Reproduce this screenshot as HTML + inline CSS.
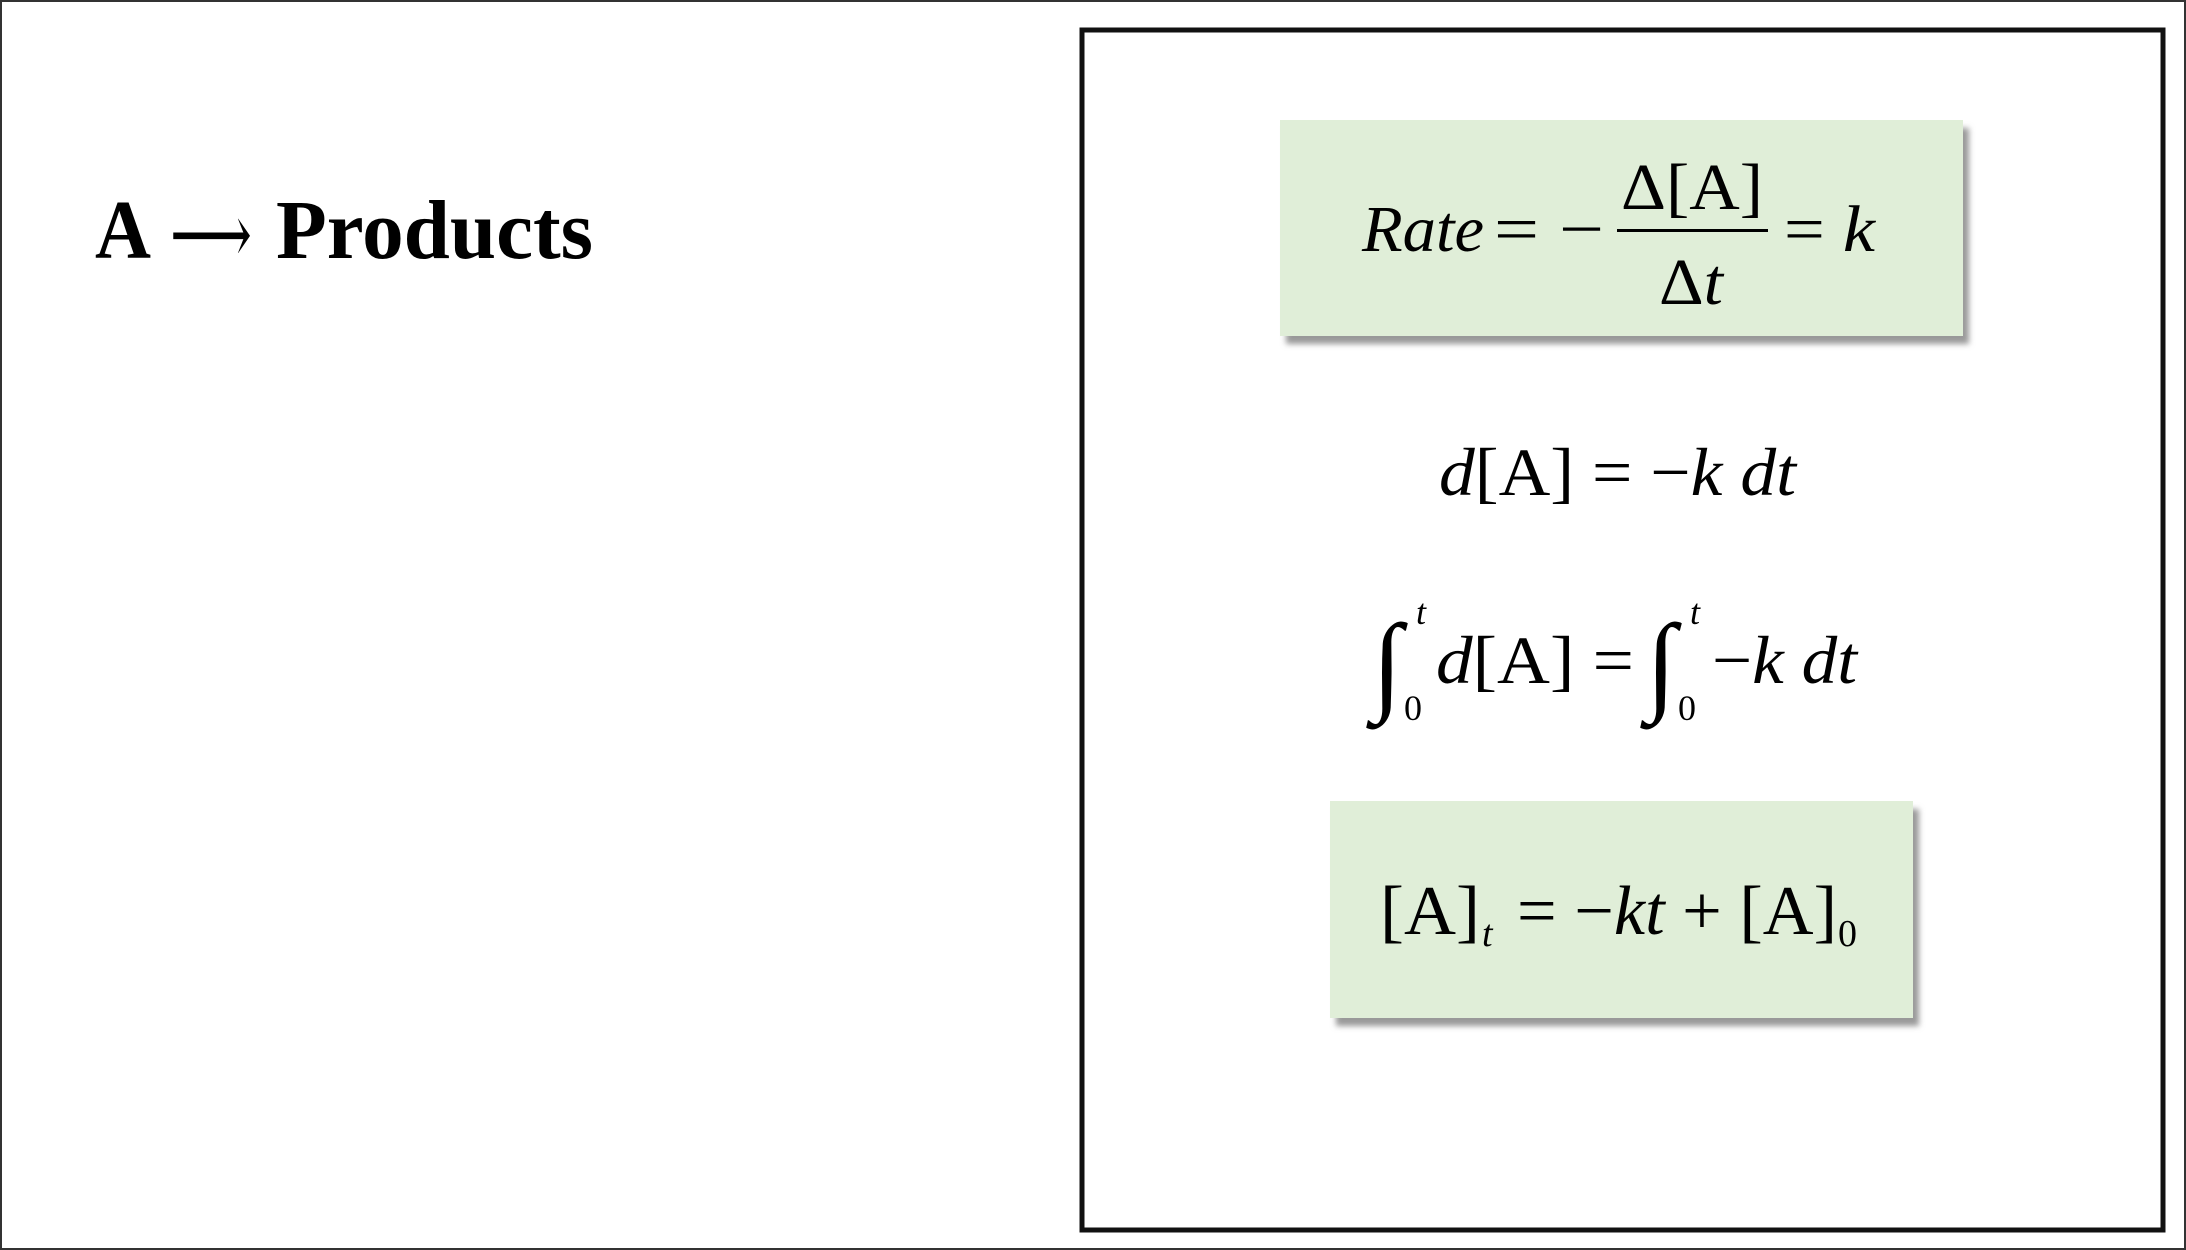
<!DOCTYPE html>
<html><head><meta charset="utf-8"><style>
html,body{margin:0;padding:0;background:#fff;}
svg{display:block;}
text{font-family:"Liberation Serif","DejaVu Serif",serif;fill:#000;}
</style></head><body>
<svg width="2186" height="1250" viewBox="0 0 2186 1250">
<defs>
<filter id="sh" x="-5%" y="-5%" width="115%" height="120%"><feGaussianBlur stdDeviation="3"/></filter>
</defs>
<rect x="1" y="1" width="2184" height="1248" fill="#fff" stroke="#333" stroke-width="2"/>
<g>
<text x="95" y="258" font-size="84" font-weight="bold" textLength="56" lengthAdjust="spacingAndGlyphs">A</text>
<text x="170" y="263" font-size="84" textLength="82" lengthAdjust="spacingAndGlyphs">⟶</text>
<text x="276" y="258" font-size="84" font-weight="bold" textLength="317" lengthAdjust="spacingAndGlyphs">Products</text>
</g>

<rect x="1082" y="30" width="1081" height="1200" fill="#fff" stroke="#111" stroke-width="5"/>

<g>
<rect x="1286" y="128" width="683" height="216" fill="#999" filter="url(#sh)"/>
<rect x="1280" y="120" width="683" height="216" fill="#e0eed8"/>
<text x="1362" y="251" font-size="66" font-style="italic" textLength="122" lengthAdjust="spacingAndGlyphs">Rate</text>
<text x="1494" y="251" font-size="66" textLength="110" lengthAdjust="spacingAndGlyphs">= −</text>
<text x="1621" y="209" font-size="66" textLength="142" lengthAdjust="spacingAndGlyphs">Δ[A]</text>
<rect x="1617" y="229" width="151" height="3" fill="#000"/>
<text x="1659" y="304" font-size="66" textLength="64" lengthAdjust="spacingAndGlyphs">Δ<tspan font-style="italic">t</tspan></text>
<text x="1784" y="251" font-size="66" textLength="91" lengthAdjust="spacingAndGlyphs">= <tspan font-style="italic">k</tspan></text>
</g>

<text x="1439" y="495" font-size="68" textLength="357" lengthAdjust="spacingAndGlyphs"><tspan font-style="italic">d</tspan>[A] = −<tspan font-style="italic">k dt</tspan></text>

<g>
<text x="1372" y="700" font-size="110" font-style="italic">∫</text>
<text x="1416" y="624" font-size="36" font-style="italic">t</text>
<text x="1404" y="720" font-size="36">0</text>
<text x="1436" y="683" font-size="68" textLength="198" lengthAdjust="spacingAndGlyphs"><tspan font-style="italic">d</tspan>[A] =</text>
<text x="1646" y="700" font-size="110" font-style="italic">∫</text>
<text x="1690" y="624" font-size="36" font-style="italic">t</text>
<text x="1678" y="720" font-size="36">0</text>
<text x="1712" y="683" font-size="68" textLength="145" lengthAdjust="spacingAndGlyphs">−<tspan font-style="italic">k dt</tspan></text>
</g>

<g>
<rect x="1336" y="809" width="583" height="217" fill="#999" filter="url(#sh)"/>
<rect x="1330" y="801" width="583" height="217" fill="#e0eed8"/>
<text x="1380" y="934" font-size="70" textLength="100" lengthAdjust="spacingAndGlyphs">[A]</text>
<text x="1482" y="946" font-size="38" font-style="italic">t</text>
<text x="1517" y="934" font-size="70" textLength="320" lengthAdjust="spacingAndGlyphs">= −<tspan font-style="italic">kt</tspan> + [A]</text>
<text x="1838" y="946" font-size="38">0</text>
</g>
</svg>
</body></html>
